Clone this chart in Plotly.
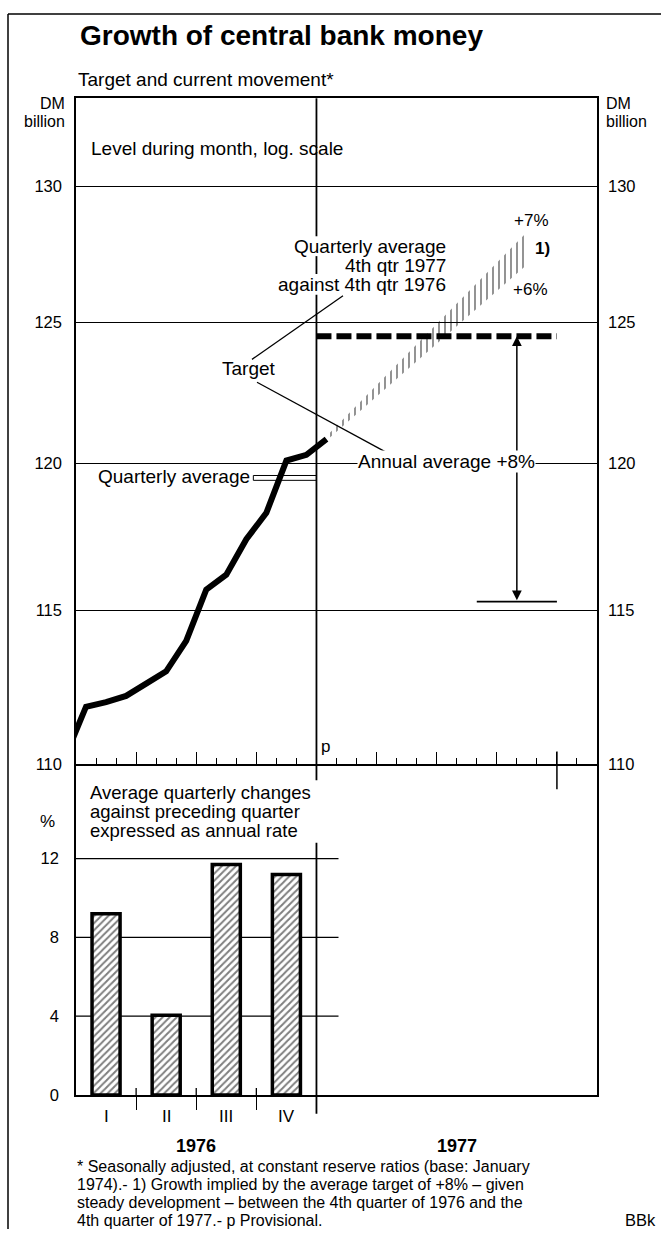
import math
import plotly.graph_objects as go

# ---------------- data ----------------
month_labels = ["Dec 1975", "Jan 1976", "Feb 1976", "Mar 1976", "Apr 1976", "May 1976",
                "Jun 1976", "Jul 1976", "Aug 1976", "Sep 1976", "Oct 1976", "Nov 1976",
                "Dec 1976", "Jan 1977"]
money_level = [110.3, 111.85, 112.0, 112.2, 112.6, 113.0, 114.0, 115.7, 116.2,
               117.4, 118.3, 120.1, 120.3, 120.85]

q4_1976_average = 119.5
annual_avg_1976 = 115.3
target_annual_avg_1977 = 124.5

corridor_months = ["Jan 1977", "Nov 1977"]
corridor_low_6pct = [120.8, 127.1]
corridor_high_7pct = [120.95, 128.3]

quarters = ["I", "II", "III", "IV"]
quarter_change = [9.2, 4.05, 11.7, 11.2]

level_ticks = [110, 115, 120, 125, 130]
pct_ticks = [0, 4, 8, 12]
years = ["1976", "1977"]

footnote_lines = [
    "* Seasonally adjusted, at constant reserve ratios (base: January",
    "1974).- 1) Growth implied by the average target of +8% \u2013 given",
    "steady development \u2013 between the 4th quarter of 1976 and the",
    "4th quarter of 1977.- p Provisional.",
]

# ---------------- geometry helpers ----------------
W, H = 661, 1238
L, R = 76, 597
TOP1, BOT1 = 99, 770
BOT2 = 1103
FONT = "Liberation Sans, Arial, sans-serif"


def fx(p):
    return p / W


def fy(p):
    return 1 - p / H


def month_index(label):
    # months since start of Jan 1976, at mid-month
    m, y = label.split()
    names = ["Jan", "Feb", "Mar", "Apr", "May", "Jun", "Jul", "Aug", "Sep", "Oct", "Nov", "Dec"]
    return (int(y) - 1976) * 12 + names.index(m) + 0.5


money_pos = [month_index(m) for m in month_labels]
corridor_pos = [month_index(m) for m in corridor_months]
quarter_pos = [3 * i + 1.5 for i in range(len(quarters))]
year_pos = [6, 19]

# log-axis calibration: 110 at y=770px, 130 at y=188px
lg_per_px = (math.log10(130) - math.log10(110)) / (770 - 188)
y1_range = [math.log10(110), math.log10(110) + (BOT1 - TOP1) * lg_per_px]
px_per_pct = (BOT2 - 865) / 12.0
y2_range = [0, (BOT2 - BOT1) / px_per_pct]
X_RANGE = [0, 26]

fig = go.Figure()

# target corridor (hatched)
fig.add_trace(go.Scatter(x=corridor_pos, y=corridor_low_6pct, mode="lines",
                         line=dict(width=0, color="black"), hoverinfo="skip"))
fig.add_trace(go.Scatter(x=corridor_pos, y=corridor_high_7pct, mode="lines",
                         line=dict(width=0, color="black"), fill="tonexty",
                         fillcolor="rgba(255,255,255,0)",
                         fillpattern=dict(shape="|", size=6, solidity=0.28,
                                          fgcolor="black", bgcolor="rgba(255,255,255,0)"),
                         hoverinfo="skip"))
# target annual average (dashed)
fig.add_trace(go.Scatter(x=[12, 24], y=[target_annual_avg_1977] * 2, mode="lines",
                         line=dict(color="black", width=6, dash="15px,5px"), hoverinfo="skip"))
# central bank money
fig.add_trace(go.Scatter(x=money_pos, y=money_level, mode="lines",
                         line=dict(color="black", width=6), hoverinfo="skip"))
# dummy trace for right axis
fig.add_trace(go.Scatter(x=[0], y=[110], mode="markers", marker=dict(opacity=0),
                         yaxis="y3", hoverinfo="skip"))
# bars
fig.add_trace(go.Bar(x=quarter_pos, y=quarter_change, width=1.4, xaxis="x2", yaxis="y2",
                     marker=dict(color="white",
                                 line=dict(color="black", width=3.5),
                                 pattern=dict(shape="/", size=5, solidity=0.4,
                                              fgcolor="black", bgcolor="white")),
                     hoverinfo="skip"))

tickfont = dict(family=FONT, size=16.5, color="black")
minor_months = [m for m in range(1, 26) if m % 3 != 0]

fig.update_layout(
    width=W, height=H, margin=dict(l=0, r=0, t=0, b=0),
    paper_bgcolor="white", plot_bgcolor="rgba(0,0,0,0)", showlegend=False,
    font=dict(family=FONT, color="black"),
    xaxis=dict(domain=[fx(L), fx(R)], range=X_RANGE, anchor="y",
               showline=True, linecolor="black", linewidth=1.5, mirror=True,
               showgrid=False, zeroline=False, showticklabels=False,
               ticks="inside", tickvals=list(range(3, 25, 3)), ticklen=13,
               tickwidth=1.3, tickcolor="black",
               minor=dict(tickvals=minor_months, ticks="inside", ticklen=7,
                          tickwidth=1.3, tickcolor="black", showgrid=False)),
    yaxis=dict(domain=[fy(BOT1), fy(TOP1)], type="log", range=y1_range, anchor="x",
               showline=True, linecolor="black", linewidth=1.5, mirror=True,
               showgrid=True, gridcolor="black", gridwidth=1.3, zeroline=False,
               tickvals=level_ticks, ticktext=[str(v) for v in level_ticks],
               ticks="", tickfont=tickfont, ticklabelstandoff=9),
    yaxis3=dict(overlaying="y", side="right", anchor="x", type="log", range=y1_range,
                showline=False, showgrid=False, zeroline=False,
                tickvals=level_ticks, ticktext=[str(v) for v in level_ticks],
                ticks="", tickfont=tickfont, ticklabelstandoff=10),
    xaxis2=dict(domain=[fx(L), fx(R)], range=X_RANGE, anchor="y2",
                showline=True, linecolor="black", linewidth=1.8,
                showgrid=False, zeroline=False, showticklabels=False,
                ticks="outside", tickvals=[3, 6, 9], ticklen=13, tickwidth=1.3,
                tickcolor="black"),
    yaxis2=dict(domain=[fy(BOT2), fy(BOT1)], range=y2_range, anchor="x2",
                showline=True, linecolor="black", linewidth=1.5, mirror=True,
                showgrid=False, zeroline=False, tickvals=pct_ticks,
                ticks="", tickfont=tickfont, ticklabelstandoff=12),
)

shapes = []
line_k = dict(color="black", width=1.3)
# outer frame
shapes.append(dict(type="line", xref="paper", yref="paper", x0=fx(8), x1=1, y0=fy(14), y1=fy(14),
                   line=dict(color="black", width=1.5)))
shapes.append(dict(type="line", xref="paper", yref="paper", x0=fx(8), x1=fx(8), y0=fy(14), y1=0,
                   line=dict(color="black", width=1.5)))
# year divider, interrupted where text crosses it
for a, b in [(TOP1, 238), (258, 276), (297, 786), (849, 1122)]:
    shapes.append(dict(type="line", xref="x", yref="paper", x0=12, x1=12, y0=fy(b), y1=fy(a),
                       line=dict(color="black", width=1.8)))
# year-end tick
shapes.append(dict(type="line", xref="x", yref="paper", x0=24, x1=24, y0=fy(795), y1=fy(757),
                   line=dict(color="black", width=1.5)))
# quarterly average Q4 1976 (double line)
shapes.append(dict(type="rect", xref="x", yref="y", x0=8.85, x1=12,
                   y0=q4_1976_average / 1.0007, y1=q4_1976_average * 1.0007,
                   line=dict(color="black", width=1), fillcolor="rgba(0,0,0,0)", layer="below"))
# base of the +8% arrow (1976 annual average)
shapes.append(dict(type="line", xref="x", yref="y", x0=20, x1=24,
                   y0=annual_avg_1976, y1=annual_avg_1976, line=dict(color="black", width=1.6)))
# leader lines from "Target"
shapes.append(dict(type="line", xref="paper", yref="paper", x0=fx(252), y0=fy(362),
                   x1=fx(343), y1=fy(298), line=line_k))
shapes.append(dict(type="line", xref="paper", yref="paper", x0=fx(257), y0=fy(385),
                   x1=fx(385), y1=fy(455), line=line_k))
# bottom panel gridlines (only across 1976)
for v in pct_ticks[1:]:
    shapes.append(dict(type="line", xref="x2", yref="y2", x0=0, x1=13.1, y0=v, y1=v,
                       line=dict(color="black", width=1.2), layer="below"))
# upward part of quarter ticks in bottom panel
for q in [3, 6, 9]:
    shapes.append(dict(type="line", xref="x2", yref="paper", x0=q, x1=q,
                       y0=fy(BOT2), y1=fy(BOT2 - 7), line=line_k))
fig.update_layout(shapes=shapes)

ann = []


def text(t, x, y, size=19, xanchor="left", bold=False, bg=None, xref="paper"):
    d = dict(text=("<b>%s</b>" % t) if bold else t, xref=xref, yref="paper",
             x=fx(x) if xref == "paper" else x, y=fy(y), xanchor=xanchor, yanchor="middle",
             showarrow=False, font=dict(family=FONT, size=size, color="black"), borderpad=0)
    if bg:
        d["bgcolor"] = bg
    ann.append(d)


text("Growth of central bank money", 79, 36, size=28, bold=True)
text("Target and current movement*", 77, 80)
text("DM", 66, 104, size=16, xanchor="right")
text("billion", 66, 122, size=16, xanchor="right")
text("DM", 605, 104, size=16)
text("billion", 605, 122, size=16)
text("Level during month, log. scale", 90, 150)
text("Quarterly average", 447, 248, xanchor="right")
text("4th qtr 1977", 447, 267, xanchor="right")
text("against 4th qtr 1976", 447, 287, xanchor="right")
text("+7%", 531, 222, size=17, xanchor="center")
text("1)", 534, 250, size=17, bold=True)
text("+6%", 530, 292, size=17, xanchor="center")
text("Target", 249, 371, xanchor="center")
text("Annual average +8%", 447, 465, xanchor="center", bg="white")
text("Quarterly average", 97, 480)
text("p", 320, 752, size=17)
text("%", 47, 828, size=17, xanchor="center")
for i, t in enumerate(["Average quarterly changes", "against preceding quarter",
                       "expressed as annual rate"]):
    text(t, 89, 798 + 19.5 * i, size=18.5)
for q, p in zip(quarters, quarter_pos):
    text(q, p, 1125, size=17, xanchor="center", xref="x2")
for yl, p in zip(years, year_pos):
    text(yl, p, 1154, size=18, xanchor="center", bold=True, xref="x2")
for i, t in enumerate(footnote_lines):
    text(t, 76, 1175 + 18 * i, size=16)
text("BBk", 657, 1229, size=16.5, xanchor="right")

# double-headed +8% arrow from 1976 average to 1977 target
ann.append(dict(x=22, y=math.log10(target_annual_avg_1977), ax=22, ay=math.log10(annual_avg_1976),
                xref="x", yref="y", axref="x", ayref="y", text="", showarrow=True,
                arrowhead=2, startarrowhead=2, arrowside="end+start", arrowsize=1.3,
                arrowwidth=1.5, arrowcolor="black", standoff=0, startstandoff=0))
fig.update_layout(annotations=[ann[-1]] + ann[:-1])

fig.write_html("out.html", config={"displayModeBar": False},
               post_script="document.body.style.margin='0px';")
